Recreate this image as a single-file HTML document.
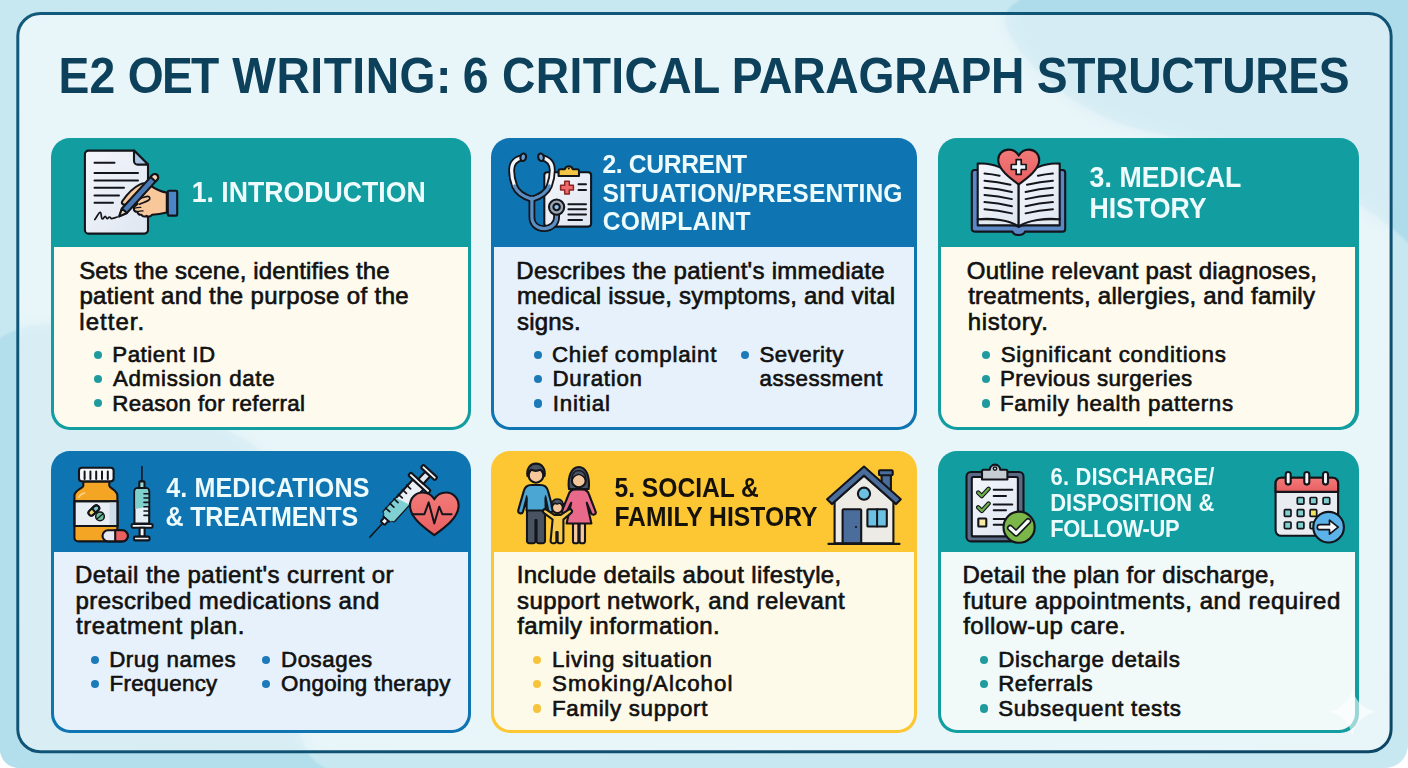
<!DOCTYPE html><html lang="en"><head><meta charset="utf-8"><title>E2 OET Writing: 6 Critical Paragraph Structures</title><style>

html,body{margin:0;padding:0}
body{width:1408px;height:768px;overflow:hidden;position:relative;background:#ffffff;font-family:'Liberation Sans', sans-serif}
.bg{position:absolute;left:0;top:0;width:1408px;height:768px}
.frame{position:absolute;left:17px;top:12.5px;width:1369.5px;height:735px;border:3px solid #165f80;border-radius:21px;background:rgba(255,255,255,.6);box-sizing:content-box}
.card{position:absolute;border-radius:19px;overflow:hidden;box-sizing:border-box}
.card .bd{position:absolute;border-radius:0 0 16.5px 16.5px}
.x{position:absolute;white-space:nowrap;line-height:1;margin:0}
.b{-webkit-text-stroke:0.65px #111}
.dot{position:absolute;width:8.4px;height:8.4px;border-radius:50%}
.ic{position:absolute;overflow:visible}

</style></head><body>
<svg class="bg" width="1408" height="768" viewBox="0 0 1408 768">
<defs><clipPath id="pc"><path d="M0 0H1408V745a23 23 0 0 1-23 23H19a19 19 0 0 1-19-19Z"/></clipPath>
<filter id="bl" x="-5%" y="-5%" width="110%" height="110%"><feGaussianBlur stdDeviation="1.2"/></filter><filter id="bl2" x="-10%" y="-10%" width="120%" height="120%"><feGaussianBlur stdDeviation="9"/></filter></defs>
<g clip-path="url(#pc)">
<rect width="1408" height="768" fill="#c7e8f1"/>
<g filter="url(#bl)">
<path d="M1028 -5C1012 4 1000 12 1006 26C1020 62 1078 118 1150 132C1260 152 1360 190 1415 250V-5Z" fill="#afdcea"/>
<path d="M-5 342C14 326 50 314 104 338C172 368 196 418 246 440C300 466 288 640 300 732C304 758 322 770 344 775H-5Z" fill="#b3deeb"/>
</g>
</g>
</svg>

<svg class="ic" style="left:0;top:0" width="1408" height="768" viewBox="0 0 1408 768"><defs><linearGradient id="fg" x1="0" y1="0" x2="1" y2="1"><stop offset="0" stop-color="#12597b"/><stop offset=".6" stop-color="#105273"/><stop offset="1" stop-color="#0e4765"/></linearGradient></defs><rect x="17.800" y="13.500" width="1373.300" height="738.200" rx="22.500" fill="#fff" fill-opacity=".6" stroke="url(#fg)" stroke-width="3"/><clipPath id="fc"><rect x="19.300" y="15" width="1370.300" height="735.200" rx="21"/></clipPath><g clip-path="url(#fc)" opacity=".2"><g filter="url(#bl2)"><path d="M1028 -5C1012 4 1000 12 1006 26C1020 62 1078 118 1150 132C1260 152 1360 190 1415 250V-5Z" fill="#afdcea"/><path d="M-5 342C14 326 50 314 104 338C172 368 196 418 246 440C300 466 288 640 300 732C304 758 322 770 344 775H-5Z" fill="#b3deeb"/></g></g></svg>
<div class="card" style="left:50.5px;top:137.5px;width:420.4px;height:292.7px;background:#129da1"><div class="bd" style="left:3.2px;right:3.2px;top:109.3px;bottom:3.2px;background:#fefbee"></div></div>
<div class="card" style="left:491px;top:137.5px;width:426px;height:292.7px;background:#0f74b2"><div class="bd" style="left:3.2px;right:3.2px;top:109.3px;bottom:3.2px;background:#e7f1fb"></div></div>
<div class="card" style="left:938px;top:137.5px;width:420.6px;height:292.7px;background:#129da1"><div class="bd" style="left:3.2px;right:3.2px;top:109.3px;bottom:3.2px;background:#fefbee"></div></div>
<div class="card" style="left:50.8px;top:451.2px;width:420.2px;height:281.8px;background:#0f74b2"><div class="bd" style="left:3.2px;right:3.2px;top:100.7px;bottom:3.2px;background:#e7f1fb"></div></div>
<div class="card" style="left:491px;top:451.2px;width:426px;height:281.8px;background:#fdc733"><div class="bd" style="left:3.2px;right:3.2px;top:100.7px;bottom:3.2px;background:#fefaea"></div></div>
<div class="card" style="left:938.3px;top:451.2px;width:420.3px;height:281.8px;background:#129da1"><div class="bd" style="left:3.2px;right:3.2px;top:100.7px;bottom:3.2px;background:#f1f9f9"></div></div>
<svg class="ic" style="left:0;top:0" width="1408" height="768" viewBox="0 0 1408 768" fill="none" stroke-linecap="round" stroke-linejoin="round">
<defs>
<linearGradient id="pg" x1="0" y1="0" x2="1" y2="1"><stop offset="0" stop-color="#f4f6fb"/><stop offset="1" stop-color="#dfe6f1"/></linearGradient>
<linearGradient id="hg" x1="0" y1="0" x2="0" y2="1"><stop offset="0" stop-color="#f27a78"/><stop offset="1" stop-color="#e95f62"/></linearGradient>
</defs>
<g id="i1" stroke="#13151b" stroke-width="2.1">
<path d="M88.5 150.6H134L148 164.6V230a3.6 3.6 0 0 1-3.6 3.6H88.5a3.6 3.6 0 0 1-3.6-3.6V154.2a3.6 3.6 0 0 1 3.6-3.6Z" fill="url(#pg)"/>
<path d="M134 150.6V161a3.6 3.6 0 0 0 3.6 3.6H148Z" fill="#a9c5e3"/>
<g stroke-width="2"><path d="M94.5 162.8H114.5M94.5 173H138M94.5 180.4H138M94.5 187.8H124M94.5 195.4H119M94.5 202.8H113"/></g>
<path d="M94.8 219.6c2.2-3 4-7.2 5.4-7.2 1.6 0 .6 6.6 2.2 6.6 1.200 0 1.600-2.600 2.800-2.600 1.100 0 .9 2.300 2 2.300 1 0 1.300-1.700 2.300-1.700 1 0 1 1.600 2 1.600 1.400 0 3.300-.9 6-1.600" stroke-width="1.7"/>
<!-- hand -->
<path d="M166.800 192.600c-6.600-1.200-12.600-4.400-17.400-7.800-3-2.100-6.400-1.800-9.800-.2-5.800 2.800-13 10.400-17.200 16.400-1.600 2.400 1.200 4.800 3.600 3.200 2.600-1.800 5.200-4.400 7.800-6.600l3.800 6.200c-1.800 1.200-3.600 2.600-3.800 4.700-.2 2.300 1.700 3.500 3.700 3.200 0 2.100 1.700 3.400 3.900 3 1.100 1.800 3.300 2.100 5.100 1.100 1.900 1.300 4.300.7 5.500-1 5.200-.5 9.900-1.300 14.800-2.400Z" fill="#f9c89a"/>
<path d="M136.600 200.800c3.200-2.200 7.400-4 10.600-4.400 2.700-.3 3.500 2.500 1.400 3.800-2.600 1.600-6 2.600-9 4" fill="#f9c89a" stroke-width="1.700"/>
<path d="M134 208.500c2.200-.8 4.800-1.200 6.800-1.100M137.600 211.700c1.900-.6 3.800-.8 5.400-.7" stroke-width="1.300"/>
<!-- pen -->
<g transform="rotate(42.300 137.850 196)"><path d="M134.500 170.800a3.350 3.350 0 0 1 6.700 0V216l-3.350 7.600L134.500 216Z" fill="#4a7ab5"/><path d="M134.500 170.800a3.350 3.350 0 0 1 6.700 0v2.600h-6.700Z" fill="#f3d3b4"/><path d="M134.500 216h6.700l-3.350 7.600Z" fill="#f6dcc0"/></g>
<rect x="167.800" y="190.800" width="9.400" height="24.800" rx="1.200" fill="#4a86c7"/>
</g>
<g id="i2" stroke="#13151b" stroke-width="2.1">
<rect x="544.300" y="172.200" width="46.800" height="54.400" rx="3" fill="url(#pg)"/>
<path d="M558.600 176v-5.200a1.600 1.600 0 0 1 1.600-1.600h4.600a4.200 4.200 0 0 1 8 0h4.600a1.600 1.600 0 0 1 1.600 1.600V176Z" fill="#f4c542"/>
<circle cx="568.800" cy="168.600" r="1" fill="#13151b" stroke="none"/>
<path d="M564.700 181.200h4.600v4.100h4.100v4.600h-4.100v4.100h-4.600v-4.100h-4.100v-4.600h4.100Z" fill="#ef6a6a" stroke="#8a2626" stroke-width="1.500"/>
<path d="M578.500 184.300h7.500M578.500 190h7.500M568.400 204.200H586M568.400 209.300H586M568.400 214.400H586M568.400 219.900H582" stroke-width="2"/>
<!-- tubes: dark under-stroke then colour -->
<g fill="none">
<path d="M522.600 157.600c-6.600 1.200-11 5.400-11 12.600 0 6.600 1.400 11.400 3 15.800 2.600 7 9.600 10.800 17.200 13.300" stroke-width="6.800"/>
<path d="M541.500 157.600c6.600 1.200 10.800 5.400 10.800 12.600 0 6.600-1.400 11.400-3 15.800-2.600 7-9.800 10.800-17.500 13.300" stroke-width="6.800"/>
<path d="M531.900 199v18c0 7 5 11.600 12.200 11.600s12.500-5 12.500-11.400v-3" stroke-width="6.800"/>
<path d="M522.600 157.600c-6.600 1.200-11 5.400-11 12.600 0 6.600 1.400 11.400 3 15.800" stroke="#f3f6fa" stroke-width="3.200"/>
<path d="M541.500 157.600c6.600 1.200 10.800 5.400 10.800 12.600 0 6.600-1.400 11.400-3 15.800" stroke="#f3f6fa" stroke-width="3.200"/>
<path d="M514.600 186c2.600 7 9.600 10.800 17.200 13.300M549.300 186c-2.600 7-9.800 10.800-17.500 13.300" stroke="#5b8fc4" stroke-width="3.200"/>
<path d="M531.900 198v19c0 7 5 11.600 12.200 11.600s12.500-5 12.500-11.400v-3" stroke="#5b8fc4" stroke-width="3.200"/>
</g>
<ellipse cx="523.200" cy="157.200" rx="2.800" ry="3.800" fill="#6f9fd0" transform="rotate(12 523.200 157.200)"/>
<ellipse cx="541" cy="157.200" rx="2.800" ry="3.800" fill="#6f9fd0" transform="rotate(-12 541 157.200)"/>
<circle cx="556.600" cy="207.100" r="7.600" fill="#9aa5b2"/>
<circle cx="556.600" cy="207.100" r="3.200" fill="#8fc0e6"/>
</g>
<g id="i3" stroke="#13151b" stroke-width="2.1">
<path d="M974.500 170h88a2.700 2.700 0 0 1 2.700 2.700v56.200a2.700 2.700 0 0 1-2.700 2.700h-37.500c-.8 2.200-3 3.400-6.300 3.400s-5.500-1.200-6.300-3.400H974.500a2.700 2.700 0 0 1-2.700-2.700V172.700a2.700 2.700 0 0 1 2.700-2.700Z" fill="#5b87c5"/>
<path d="M977.700 219.300v6.100h34.600c3 0 5 .5 6.400 1.500 1.400-1 3.400-1.500 6.400-1.500h34.600v-6.100Z" fill="#e4eaf2"/>
<path d="M977.700 163.600c14-1.200 30 4 41 19.600v43.200c-9-6.200-27-8.600-41-7.100Z" fill="url(#pg)"/>
<path d="M1059.700 163.600c-14-1.200-30 4-41 19.600v43.200c9-6.200 27-8.600 41-7.100Z" fill="url(#pg)"/>
<path d="M984.5 173.5q7.6 0.6 15.1 2.3M984.5 180.7q13.0 1.0 26.0 4.0M984.5 187.8q13.7 1.0 27.4 4.2M984.5 194.9q13.7 1.0 27.4 4.2M984.5 202.1q13.7 1.0 27.4 4.2M984.5 209.2q13.7 1.0 27.4 4.2M1052.9 173.5q-7.5 0.6 -15.0 2.3M1052.9 180.7q-13.0 1.0 -25.9 4.0M1052.9 187.8q-13.7 1.1 -27.3 4.2M1052.9 194.9q-13.7 1.1 -27.3 4.2M1052.9 202.1q-13.7 1.1 -27.3 4.2M1052.9 209.2q-13.7 1.1 -27.3 4.2" stroke-width="2"/>
<path d="M1018.700 184.400c-9-6.600-20.500-15-20.500-24.400 0-6 4.600-10.400 10.400-10.400 4.200 0 8 2.300 10.100 6 2.100-3.700 5.900-6 10.100-6 5.800 0 10.400 4.400 10.400 10.400 0 9.400-11.500 17.800-20.500 24.400Z" fill="url(#hg)"/>
<path d="M1016.200 159.600h5v4.900h4.900v5h-4.900v4.900h-5v-4.900h-4.900v-5h4.900Z" fill="#eef6fb" stroke-width="1.700"/>
</g>
<g id="i4a" stroke="#13151b" stroke-width="2.100">
<path d="M83.300 481.400h26v4.400c0 2.600 8.100 3.800 8.100 10V537.400a4 4 0 0 1-4 4H78.400a4 4 0 0 1-4-4V495.800c0-6.200 8.900-7.400 8.900-10Z" fill="#f5a524"/>
<path d="M78.600 497.500c1.200-2.400 3.800-3.800 6-4.400" stroke="#fbd38a" stroke-width="1.600"/>
<rect x="74.400" y="501.200" width="43" height="24.800" fill="#e9eef5"/>
<path d="M109.500 501.200h7.900V526h-7.900Z" fill="#cfdce9" stroke="none"/>
<rect x="74.400" y="501.200" width="43" height="24.800"/>
<rect x="79" y="467.800" width="34.600" height="13.600" rx="2.800" fill="#f6f7f9"/>
<path d="M84.6 471.500V479M90.4 471.500V479M96.2 471.500V479M102.0 471.500V479M107.8 471.500V479" stroke-width="2"/>
<g transform="rotate(-42 93.800 510.500)"><rect x="87.600" y="507.700" width="12.400" height="5.600" rx="2.800" fill="#f3d672"/><path d="M93.800 507.700h3.400a2.800 2.800 0 0 1 0 5.600h-3.400Z" fill="#7fc8c8"/><rect x="87.600" y="507.700" width="12.400" height="5.600" rx="2.800" stroke-width="1.500"/></g>
<circle cx="100" cy="516.400" r="4.300" fill="#6fbf9a" stroke-width="1.500"/><path d="M97.200 518.800l5.600-4.800" stroke-width="1.300"/>
<rect x="102.500" y="530.300" width="25.400" height="11.100" rx="5.550" fill="#e6e9f2"/>
<path d="M115.200 530.300h7.150a5.550 5.550 0 0 1 0 11.100H115.200Z" fill="#ea5f5f"/>
<!-- syringe -->
<path d="M141.900 466.500V481.400" stroke-width="1.600"/>
<rect x="139.300" y="481.400" width="5.200" height="6.600" rx="1" fill="#9fd8cf"/>
<path d="M134.400 491.200a3.200 3.200 0 0 1 3.200-3.200h8.400a3.200 3.200 0 0 1 3.200 3.200v32.300h-14.800Z" fill="#e3eef5"/>
<path d="M135.350 491.200a2.250 2.250 0 0 1 2.250-2.250h8.400a2.250 2.250 0 0 1 2.250 2.250V506.500l-12.900 2.500Z" fill="#7fd0cc" stroke="none"/>
<path d="M144 493.7H148.500M144 498H148.500M144 502.4H148.500M144 506.7H148.500M144 511H148.500M144 515.4H148.500" stroke-width="1.600"/>
<rect x="131.600" y="524" width="21" height="3.800" rx="1.200" fill="#f4f6f9"/>
<rect x="139.600" y="527.800" width="5" height="8.800" fill="#f4f6f9"/>
<rect x="134" y="536.600" width="15.500" height="3.800" rx="1.200" fill="#f4f6f9"/>
</g>
<g id="i4b" stroke="#13151b" stroke-width="2.100">
<g transform="translate(387.200 518.200) rotate(42.500)">
<path d="M0 6.500V25.500" stroke-width="1.700"/>
<rect x="-2.700" y="1" width="5.400" height="5.800" rx="1.200" fill="#f1f4f8"/>
<path d="M-7.200 -2.200a3.200 3.200 0 0 1 3.200 3.200h8a3.200 3.200 0 0 1 3.200-3.200V-46h-14.400Z" fill="#eaf0f6"/>
<path d="M-7 -2a2.400 2.400 0 0 1 2.400 2.100h9.200a2.400 2.400 0 0 1 2.400-2.100V-25L-7-21Z" fill="#7fcfd3" stroke="none"/>
<path d="M-8 -6.5h5.4M-8 -12.7h5.4M-8 -18.9h5.4M-8 -25.1h5.4M-8 -31.3h5.4M-8 -37.5h5.4" stroke-width="1.700"/>
<rect x="-13.500" y="-49.800" width="27" height="4" rx="1.600" fill="#f4f6f9"/>
<rect x="-3.400" y="-60" width="6.800" height="10.200" fill="#e4e8ef"/>
<rect x="-9.500" y="-64" width="19" height="4" rx="1.600" fill="#f4f6f9"/>
</g>
<path d="M434.300 535.200c-10.500-7.600-24.300-17.600-24.300-29.600 0-7.400 5.600-13.100 12.600-13.100 4.800 0 9.200 2.600 11.700 6.800 2.500-4.200 6.900-6.800 11.700-6.800 7 0 12.600 5.700 12.600 13.100 0 12-13.800 22-24.300 29.600Z" fill="url(#hg)" stroke-width="2.100"/>
<path d="M412.200 514.200h12.200l4.300-11.800 5.600 21.100 4.900-16.800 3.100 7.500h9.300" stroke-width="2"/>
</g>
<g id="i5a" stroke="#13151b" stroke-width="2.100">
<!-- man -->
<path d="M527 510h18V541a2.300 2.300 0 0 1-2.300 2.300h-3.900a2.300 2.300 0 0 1-2.300-2.300V520h-1v21a2.300 2.300 0 0 1-2.300 2.300h-3.900A2.300 2.300 0 0 1 527 541Z" fill="#4a5361"/>
<path d="M531.500 485h9c4.600 0 6.800 2.600 7.600 6.400l4.800 17.400c.9 3.300-3.600 4.600-4.700 1.500L545.600 498v12.500h-19V498l-3.600 13.600c-1 3.100-5.600 1.800-4.700-1.500l5.400-18.700c.8-3.800 3.200-6.400 7.800-6.400Z" fill="#4ba6d4"/>
<path d="M526.600 496v6M545.600 496v6" stroke-width="1.500"/>
<circle cx="536" cy="475.400" r="7.300" fill="#f7c79c"/>
<path d="M527.600 476.200c-1.600-7 2.400-12.600 8.400-12.600s10 5.600 8.400 12.600c-.6-3.600-2-5.400-4.200-6.400-3 1.400-6.400 1.200-8.800-.2-2 1-3.200 3-3.800 6.600Z" fill="#4a5361"/>
<!-- woman -->
<path d="M573 523h5.400v18.200a2.100 2.100 0 0 1-2.100 2.100h-1.200a2.100 2.100 0 0 1-2.100-2.100ZM579.600 523h5.400v18.200a2.100 2.100 0 0 1-2.100 2.100h-1.200a2.100 2.100 0 0 1-2.100-2.100Z" fill="#f7c79c"/>
<path d="M569 489c-1.600-12 2.400-22 9.800-22s11.400 10 9.800 22Z" fill="#4a5361"/>
<path d="M575.400 489.400h6.800c3.800 0 6 2.200 7 5.600l6.400 16.600c1 3-3.200 4.400-4.400 1.600l-4.400-10.400 4.600 20.700H566.600l4.600-20.700-4.600 9.200c-1.400 2.800-5.400 1.200-4.400-1.600l6.200-15.400c1-3.400 3.200-5.600 7-5.600Z" fill="#e9698b"/>
<circle cx="578.800" cy="480.400" r="6.900" fill="#f7c79c"/>
<path d="M571.800 480.600c-.4-6.400 2.400-10 7-10s7.400 3.600 7 10c-1-3.400-3.400-5.400-7-6.200-3.600.8-6 2.800-7 6.200Z" fill="#4a5361" stroke-width="1.400"/>
<!-- child -->
<path d="M552.600 519.500l-8.600-6.400c-2.400-1.800-.2-5 2.300-3.400l8 5.200h6.400l8-5.200c2.500-1.600 4.700 1.600 2.300 3.400l-7.600 6.400V541a2.300 2.300 0 0 1-2.300 2.300h-1.200a2.300 2.300 0 0 1-2.300-2.300v-9h-1.200v9a2.300 2.300 0 0 1-2.300 2.300h-1.200a2.300 2.300 0 0 1-2.300-2.300Z" fill="#f8ca4b"/>
<circle cx="557.400" cy="507.600" r="5.400" fill="#f7c79c"/>
<path d="M551.400 507c-.6-4.800 2-8 6-8s6.600 3.200 6 8c-.8-2.200-1.800-3.200-3.200-3.800-1.800.9-4 .9-5.600 0-1.400.6-2.400 1.600-3.200 3.800Z" fill="#4a5361" stroke-width="1.500"/>
</g>
<g id="i5b" stroke="#13151b" stroke-width="2.100">
<rect x="881.600" y="473" width="9.300" height="22" fill="#4a6d9c"/>
<rect x="879" y="470.200" width="13.700" height="5" rx="1" fill="#4a6d9c"/>
<path d="M834.600 501V543.300h58.800V501L864 475.500Z" fill="#ecebe6"/>
<path d="M864 466.500l36.800 32.800-4.700 4.800L864 475.600l-32.100 28.500-4.800-4.800Z" fill="#4a6d9c"/>
<circle cx="864" cy="493.700" r="6.100" fill="#6cc0e2" stroke-width="2.100"/>
<rect x="842.600" y="509.200" width="18.600" height="34.100" rx="1" fill="#4a6d9c"/>
<circle cx="856" cy="527" r="1.100" fill="#13151b" stroke="none"/>
<rect x="867.400" y="509.200" width="19.400" height="17.300" rx=".8" fill="#6cc0e2" stroke-width="2.100"/>
<path d="M877.100 509.200V526.500" stroke-width="2"/>
<path d="M828.400 543.900H899.500" stroke-width="2.100"/>
</g>
<g id="i6a" stroke="#13151b" stroke-width="2.100">
<rect x="966.500" y="472" width="57" height="69.400" rx="4.500" fill="#5b6b86"/>
<rect x="971.800" y="477" width="46.100" height="59.400" rx="1.500" fill="url(#pg)"/>
<path d="M982 479.500v-8.200a1.500 1.500 0 0 1 1.500-1.500h6.300a5.200 5.200 0 0 1 10.400 0h5.700a1.500 1.500 0 0 1 1.500 1.500v8.200Z" fill="#c6cdd3"/>
<circle cx="995" cy="468.600" r="1.700" fill="#eef1f5" stroke-width="1.500"/>
<path d="M978.200 492.600l3.600 3.500 6.800-7.300M978.200 507.400l3.600 3.500 6.800-7.300" stroke-width="4.400"/>
<path d="M978.200 492.600l3.600 3.500 6.800-7.300M978.200 507.400l3.600 3.500 6.800-7.300" stroke="#6fb04e" stroke-width="2.200"/>
<rect x="978.300" y="518.500" width="8" height="8" rx=".6" fill="#f8e9a4"/>
<path d="M993.700 489.700h18.600M993.700 495.900H1006M993.700 504.500h18.600M993.700 510.200H1006M993.700 519.100H1006M993.700 524.700H1004" stroke-width="2"/>
<circle cx="1019.100" cy="527.200" r="15.600" fill="#7ab648" stroke-width="2.100"/>
<path d="M1010.200 528l5.900 5.400 12-12.200" stroke-width="6.400"/>
<path d="M1010.200 528l5.900 5.400 12-12.200" stroke="#f6faf4" stroke-width="3.300"/>
</g>
<g id="i6b" stroke="#13151b" stroke-width="2.100">
<rect x="1275.600" y="477.700" width="62.500" height="58.100" rx="5.500" fill="#e9edf2"/>
<path d="M1275.600 491.900v-8.700a5.500 5.500 0 0 1 5.500-5.500h51.500a5.500 5.500 0 0 1 5.500 5.500v8.700Z" fill="url(#hg)"/>
<rect x="1285.7" y="472" width="5" height="12.600" rx="2.500" fill="#f6f7f9"/><rect x="1304.3" y="472" width="5" height="12.600" rx="2.500" fill="#f6f7f9"/><rect x="1323.0" y="472" width="5" height="12.600" rx="2.500" fill="#f6f7f9"/>
<rect x="1297.3" y="497.5" width="6.600" height="6.600" rx=".9" fill="#80d0cf" stroke-width="1.700"/><rect x="1310.1" y="497.5" width="6.600" height="6.600" rx=".9" fill="#80d0cf" stroke-width="1.700"/><rect x="1323.1" y="497.5" width="6.600" height="6.600" rx=".9" fill="#80d0cf" stroke-width="1.700"/><rect x="1284.4" y="509.7" width="6.600" height="6.600" rx=".9" fill="#80d0cf" stroke-width="1.700"/><rect x="1297.3" y="509.7" width="6.600" height="6.600" rx=".9" fill="#80d0cf" stroke-width="1.700"/><rect x="1310.1" y="509.7" width="6.600" height="6.600" rx=".9" fill="#f3e25c" stroke-width="1.700"/><rect x="1284.4" y="522.0" width="6.600" height="6.600" rx=".9" fill="#80d0cf" stroke-width="1.700"/><rect x="1297.3" y="522.0" width="6.600" height="6.600" rx=".9" fill="#80d0cf" stroke-width="1.700"/><rect x="1310.1" y="522.0" width="6.600" height="6.600" rx=".9" fill="#80d0cf" stroke-width="1.700"/>
<circle cx="1328.600" cy="527.200" r="15.300" fill="#5cb3ea" stroke-width="2.100"/>
<path d="M1319.800 524.700h9.700v-4.500l8.700 7-8.700 7v-4.500h-9.700a2.500 2.500 0 0 1 0-5Z" fill="#f6f9fc" stroke-width="1.700"/>
</g>
</svg>
<svg class="ic" style="left:0;top:0" width="1408" height="768" viewBox="0 0 1408 768"><path d="M1352.3 687.8C1354.8 700.8 1363.3 709.3 1376.3 711.8C1363.3 714.3 1354.8 722.8 1352.3 735.8C1349.8 722.8 1341.3 714.3 1328.3 711.8C1341.3 709.3 1349.8 700.8 1352.3 687.8Z" fill="#fff" fill-opacity=".58"/></svg>
<i class="dot" style="left:93.8px;top:350.7px;background:#1f9b9f"></i>
<i class="dot" style="left:93.8px;top:374.8px;background:#1f9b9f"></i>
<i class="dot" style="left:93.8px;top:399.1px;background:#1f9b9f"></i>
<i class="dot" style="left:533.6px;top:350.9px;background:#1c7ab9"></i>
<i class="dot" style="left:533.6px;top:374.8px;background:#1c7ab9"></i>
<i class="dot" style="left:533.6px;top:399.2px;background:#1c7ab9"></i>
<i class="dot" style="left:740.8px;top:350.6px;background:#1c7ab9"></i>
<i class="dot" style="left:981.7px;top:351.0px;background:#1f9b9f"></i>
<i class="dot" style="left:981.7px;top:374.9px;background:#1f9b9f"></i>
<i class="dot" style="left:981.7px;top:399.3px;background:#1f9b9f"></i>
<i class="dot" style="left:90.6px;top:655.7px;background:#1c7ab9"></i>
<i class="dot" style="left:262.1px;top:655.7px;background:#1c7ab9"></i>
<i class="dot" style="left:90.6px;top:679.9px;background:#1c7ab9"></i>
<i class="dot" style="left:262.1px;top:679.9px;background:#1c7ab9"></i>
<i class="dot" style="left:533.0px;top:656.0px;background:#f5c43c"></i>
<i class="dot" style="left:533.0px;top:679.9px;background:#f5c43c"></i>
<i class="dot" style="left:533.0px;top:704.4px;background:#f5c43c"></i>
<i class="dot" style="left:979.5px;top:656.0px;background:#1f9b9f"></i>
<i class="dot" style="left:979.5px;top:679.9px;background:#1f9b9f"></i>
<i class="dot" style="left:979.5px;top:704.4px;background:#1f9b9f"></i>
<h1 style="margin:0;font-size:inherit"><span class="x hw" style="left:58.45px;top:54.10px;font-size:46.23px;font-weight:700;color:#0d405a;letter-spacing:0.256px;transform-origin:0 39.00px;transform:scaleY(1.0660)">E2</span> <span class="x hw" style="left:127.64px;top:54.10px;font-size:46.23px;font-weight:700;color:#0d405a;letter-spacing:-1.641px;transform-origin:0 39.00px;transform:scaleY(1.0660)">OET</span> <span class="x hw" style="left:232.27px;top:54.10px;font-size:46.23px;font-weight:700;color:#0d405a;letter-spacing:0.508px;transform-origin:0 39.00px;transform:scaleY(1.0660)">WRITING:</span> <span class="x hw" style="left:462.79px;top:54.10px;font-size:46.23px;font-weight:700;color:#0d405a;letter-spacing:2.150px;transform-origin:0 39.00px;transform:scaleY(1.0660)">6</span> <span class="x hw" style="left:501.99px;top:54.10px;font-size:46.23px;font-weight:700;color:#0d405a;letter-spacing:0.375px;transform-origin:0 39.00px;transform:scaleY(1.0660)">CRITICAL</span> <span class="x hw" style="left:731.84px;top:54.10px;font-size:46.23px;font-weight:700;color:#0d405a;letter-spacing:-0.229px;transform-origin:0 39.00px;transform:scaleY(1.0660)">PARAGRAPH</span> <span class="x hw" style="left:1036.65px;top:54.10px;font-size:46.23px;font-weight:700;color:#0d405a;letter-spacing:-0.315px;transform-origin:0 39.00px;transform:scaleY(1.0660)">STRUCTURES</span></h1>
<h2 class="x t" style="left:191.70px;top:180.00px;font-size:26.65px;font-weight:700;color:#eefbfc;letter-spacing:0.016px;transform-origin:0 22.00px;transform:scaleY(1.0757)">1. INTRODUCTION</h2>
<span class="x b" style="left:79.22px;top:259.00px;font-size:24px;font-weight:400;color:#111;letter-spacing:0.122px">Sets the scene, identifies the</span>
<span class="x b" style="left:79.40px;top:284.00px;font-size:24px;font-weight:400;color:#111;letter-spacing:0.358px">patient and the purpose of the</span>
<span class="x b" style="left:79.35px;top:310.00px;font-size:24px;font-weight:400;color:#111;letter-spacing:1.019px">letter.</span>
<span class="x b" style="left:112.22px;top:344.00px;font-size:22.3px;font-weight:400;color:#111;letter-spacing:0.556px">Patient ID</span>
<span class="x b" style="left:113.04px;top:368.00px;font-size:22.3px;font-weight:400;color:#111;letter-spacing:0.705px">Admission date</span>
<span class="x b" style="left:112.22px;top:393.00px;font-size:22.3px;font-weight:400;color:#111;letter-spacing:0.386px">Reason for referral</span>
<h2 class="x t" style="left:602.50px;top:153.40px;font-size:24.66px;font-weight:700;color:#eefbfc;letter-spacing:-0.363px;transform-origin:0 19.00px;transform:scaleY(1.0478)">2. CURRENT</h2>
<h2 class="x t" style="left:602.42px;top:181.60px;font-size:24.66px;font-weight:700;color:#eefbfc;letter-spacing:0.103px;transform-origin:0 19.00px;transform:scaleY(1.0478)">SITUATION/PRESENTING</h2>
<h2 class="x t" style="left:602.72px;top:210.10px;font-size:24.66px;font-weight:700;color:#eefbfc;letter-spacing:0.165px;transform-origin:0 19.00px;transform:scaleY(1.0478)">COMPLAINT</h2>
<span class="x b" style="left:516.28px;top:259.00px;font-size:24px;font-weight:400;color:#111;letter-spacing:0.281px">Describes the patient's immediate</span>
<span class="x b" style="left:517.08px;top:284.00px;font-size:24px;font-weight:400;color:#111;letter-spacing:0.218px">medical issue, symptoms, and vital</span>
<span class="x b" style="left:517.01px;top:310.00px;font-size:24px;font-weight:400;color:#111;letter-spacing:0.203px">signs.</span>
<span class="x b" style="left:552.00px;top:344.00px;font-size:22.3px;font-weight:400;color:#111;letter-spacing:0.768px">Chief complaint</span>
<span class="x b" style="left:552.51px;top:368.00px;font-size:22.3px;font-weight:400;color:#111;letter-spacing:0.743px">Duration</span>
<span class="x b" style="left:552.66px;top:393.00px;font-size:22.3px;font-weight:400;color:#111;letter-spacing:0.879px">Initial</span>
<span class="x b" style="left:759.48px;top:344.00px;font-size:22.3px;font-weight:400;color:#111;letter-spacing:0.475px">Severity</span>
<span class="x b" style="left:759.60px;top:368.00px;font-size:22.3px;font-weight:400;color:#111;letter-spacing:0.421px">assessment</span>
<h2 class="x t" style="left:1089.54px;top:165.10px;font-size:26.72px;font-weight:700;color:#eefbfc;letter-spacing:0.055px;transform-origin:0 22.00px;transform:scaleY(1.0846)">3. MEDICAL</h2>
<h2 class="x t" style="left:1089.44px;top:196.40px;font-size:26.72px;font-weight:700;color:#eefbfc;letter-spacing:-0.027px;transform-origin:0 22.00px;transform:scaleY(1.0846)">HISTORY</h2>
<span class="x b" style="left:966.76px;top:259.00px;font-size:24px;font-weight:400;color:#111;letter-spacing:0.232px">Outline relevant past diagnoses,</span>
<span class="x b" style="left:968.15px;top:284.00px;font-size:24px;font-weight:400;color:#111;letter-spacing:0.248px">treatments, allergies, and family</span>
<span class="x b" style="left:967.64px;top:310.00px;font-size:24px;font-weight:400;color:#111;letter-spacing:0.677px">history.</span>
<span class="x b" style="left:1000.71px;top:344.00px;font-size:22.3px;font-weight:400;color:#111;letter-spacing:0.743px">Significant conditions</span>
<span class="x b" style="left:1000.05px;top:368.00px;font-size:22.3px;font-weight:400;color:#111;letter-spacing:0.437px">Previous surgeries</span>
<span class="x b" style="left:1000.05px;top:393.00px;font-size:22.3px;font-weight:400;color:#111;letter-spacing:0.651px">Family health patterns</span>
<h2 class="x t" style="left:166.18px;top:476.00px;font-size:25.08px;font-weight:700;color:#eefbfc;letter-spacing:0.132px;transform-origin:0 20.00px;transform:scaleY(1.0702)">4. MEDICATIONS</h2>
<h2 class="x t" style="left:165.49px;top:505.40px;font-size:25.08px;font-weight:700;color:#eefbfc;letter-spacing:-0.177px;transform-origin:0 20.00px;transform:scaleY(1.0702)">&amp; TREATMENTS</h2>
<span class="x b" style="left:74.92px;top:563.00px;font-size:24px;font-weight:400;color:#111;letter-spacing:0.421px">Detail the patient's current or</span>
<span class="x b" style="left:75.58px;top:589.00px;font-size:24px;font-weight:400;color:#111;letter-spacing:0.407px">prescribed medications and</span>
<span class="x b" style="left:75.93px;top:614.00px;font-size:24px;font-weight:400;color:#111;letter-spacing:0.594px">treatment plan.</span>
<span class="x b" style="left:109.14px;top:649.00px;font-size:22.3px;font-weight:400;color:#111;letter-spacing:0.573px">Drug names</span>
<span class="x b" style="left:109.53px;top:673.00px;font-size:22.3px;font-weight:400;color:#111;letter-spacing:0.299px">Frequency</span>
<span class="x b" style="left:281.05px;top:649.00px;font-size:22.3px;font-weight:400;color:#111;letter-spacing:0.533px">Dosages</span>
<span class="x b" style="left:281.02px;top:673.00px;font-size:22.3px;font-weight:400;color:#111;letter-spacing:0.326px">Ongoing therapy</span>
<h2 class="x t" style="left:614.60px;top:477.00px;font-size:24.65px;font-weight:700;color:#15110b;letter-spacing:-0.040px;transform-origin:0 19.00px;transform:scaleY(1.0838)">5. SOCIAL &amp;</h2>
<h2 class="x t" style="left:614.40px;top:506.40px;font-size:24.65px;font-weight:700;color:#15110b;letter-spacing:0.035px;transform-origin:0 19.00px;transform:scaleY(1.0838)">FAMILY HISTORY</h2>
<span class="x b" style="left:516.63px;top:563.00px;font-size:24px;font-weight:400;color:#111;letter-spacing:0.358px">Include details about lifestyle,</span>
<span class="x b" style="left:517.09px;top:589.00px;font-size:24px;font-weight:400;color:#111;letter-spacing:0.411px">support network, and relevant</span>
<span class="x b" style="left:517.22px;top:614.00px;font-size:24px;font-weight:400;color:#111;letter-spacing:0.434px">family information.</span>
<span class="x b" style="left:552.00px;top:649.00px;font-size:22.3px;font-weight:400;color:#111;letter-spacing:0.834px">Living situation</span>
<span class="x b" style="left:552.01px;top:673.00px;font-size:22.3px;font-weight:400;color:#111;letter-spacing:1.020px">Smoking/Alcohol</span>
<span class="x b" style="left:552.00px;top:698.00px;font-size:22.3px;font-weight:400;color:#111;letter-spacing:0.702px">Family support</span>
<h2 class="x t" style="left:1050.61px;top:467.10px;font-size:21.93px;font-weight:700;color:#eefbfc;letter-spacing:0.141px;transform-origin:0 18.00px;transform:scaleY(1.0630)">6. DISCHARGE/</h2>
<h2 class="x t" style="left:1050.19px;top:493.00px;font-size:21.93px;font-weight:700;color:#eefbfc;letter-spacing:0.071px;transform-origin:0 18.00px;transform:scaleY(1.0630)">DISPOSITION &amp;</h2>
<h2 class="x t" style="left:1050.19px;top:518.90px;font-size:21.93px;font-weight:700;color:#eefbfc;letter-spacing:-0.359px;transform-origin:0 18.00px;transform:scaleY(1.0630)">FOLLOW-UP</h2>
<span class="x b" style="left:962.50px;top:563.00px;font-size:24px;font-weight:400;color:#111;letter-spacing:0.250px">Detail the plan for discharge,</span>
<span class="x b" style="left:963.22px;top:589.00px;font-size:24px;font-weight:400;color:#111;letter-spacing:0.525px">future appointments, and required</span>
<span class="x b" style="left:963.22px;top:614.00px;font-size:24px;font-weight:400;color:#111;letter-spacing:0.452px">follow-up care.</span>
<span class="x b" style="left:998.22px;top:649.00px;font-size:22.3px;font-weight:400;color:#111;letter-spacing:0.662px">Discharge details</span>
<span class="x b" style="left:998.22px;top:673.00px;font-size:22.3px;font-weight:400;color:#111;letter-spacing:0.488px">Referrals</span>
<span class="x b" style="left:998.20px;top:698.00px;font-size:22.3px;font-weight:400;color:#111;letter-spacing:0.699px">Subsequent tests</span>
</body></html>
